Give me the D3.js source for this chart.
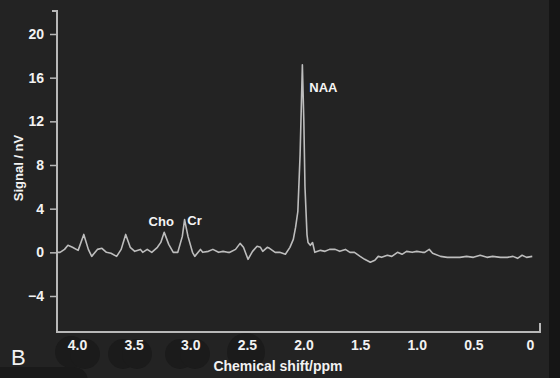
<html lang="en">
<head>
<meta charset="utf-8">
<title>MR spectrum</title>
<script src="https://cdn.jsdelivr.net/npm/d3@7"></script>
<style>
  body { margin: 0; background: #232323; }
  text { font-family: "Liberation Sans", Arial, sans-serif; }
</style>
</head>
<body></body>
<script type="text/javascript">

/*********************************************************************/
// Data

var shiftPpm = [4.18, 4.15, 4.11, 4.08, 4.04, 3.99, 3.94, 3.90, 3.87, 3.82, 3.78, 3.74, 3.70, 3.65, 3.61, 3.57,
	3.53, 3.49, 3.44, 3.42, 3.38, 3.34, 3.29, 3.26, 3.23, 3.19, 3.15, 3.11, 3.07, 3.05, 3.02, 2.98,
	2.96, 2.91, 2.89, 2.84, 2.80, 2.75, 2.71, 2.67, 2.65, 2.60, 2.56, 2.53, 2.49, 2.45, 2.41, 2.38,
	2.36, 2.32, 2.30, 2.25, 2.21, 2.16, 2.12, 2.09, 2.07, 2.05, 2.03, 2.02, 2.01, 1.997, 1.987, 1.969,
	1.96, 1.94, 1.92, 1.90, 1.85, 1.81, 1.77, 1.72, 1.68, 1.63, 1.59, 1.55, 1.50, 1.46, 1.41, 1.37,
	1.34, 1.31, 1.26, 1.22, 1.17, 1.13, 1.09, 1.04, 1.00, 0.95, 0.93, 0.89, 0.86, 0.79, 0.73, 0.68,
	0.62, 0.56, 0.50, 0.44, 0.38, 0.33, 0.26, 0.20, 0.15, 0.11, 0.07, 0.03, -0.02];

var signalNv = [0, 0, 0.27, 0.64, 0.46, 0.18, 1.64, 0.27, -0.37, 0.27, 0.37, 0, -0.09, -0.37, 0.27, 1.64,
	0.46, 0.09, 0.27, 0, 0.27, 0, 0.46, 0.91, 1.83, 0.73, 0, 0, 1.46, 3.0, 1.46, 0,
	-0.37, 0.27, 0, 0.09, 0.27, 0, 0.09, 0, 0, 0.27, 0.82, 0.46, -0.64, 0.09, 0.55, 0.46,
	0.09, 0.46, 0.37, 0, 0, -0.18, 0.46, 1.19, 2.28, 3.74, 8.95, 13.06, 17.17, 12.0, 6.0, 1.6,
	0.9, 0.64, 0.9, 0, 0.18, 0.09, 0.27, 0.27, 0.09, 0.27, 0, 0, -0.37, -0.64, -0.91, -0.73,
	-0.37, -0.46, -0.27, -0.37, 0, -0.18, 0.09, 0, 0.09, 0, 0, 0.27, -0.09, -0.37, -0.46, -0.46,
	-0.46, -0.37, -0.46, -0.27, -0.46, -0.37, -0.46, -0.46, -0.37, -0.55, -0.27, -0.46, -0.37];

var xTicks = [4.0, 3.5, 3.0, 2.5, 2.0, 1.5, 1.0, 0.5, 0];
var xTickLabels = ["4.0", "3.5", "3.0", "2.5", "2.0", "1.5", "1.0", "0.5", "0"];
var yTicks = [-4, 0, 4, 8, 12, 16, 20];

var peakNames = ["Cho", "Cr", "NAA"];
var peakPpm = [3.23, 3.05, 2.01];
var peakSignal = [1.83, 3.0, 17.17];

/*********************************************************************/
// Canvas

width = 560;
height = 378;

svg = d3.select("body")
	.append("svg")
	.attr("id", "canvas")
	.attr("width", width)
	.attr("height", height);

svg.append("rect")
	.attr("width", width)
	.attr("height", height)
	.attr("fill", "#232323");

// dark strip on the right edge of the scan
svg.append("rect")
	.attr("x", 549)
	.attr("width", width - 549)
	.attr("height", height)
	.attr("fill", "#151515");

/*********************************************************************/
// Scales

var x = d3.scaleLinear().domain([4, 0]).range([77, 530]);
var y = d3.scaleLinear().domain([-4, 20]).range([296, 34]);

/*********************************************************************/
// Scan smudges behind the x labels

var blobs = [[71, 352, 16], [85, 354, 15], [123, 354, 15], [137, 354, 15],
	[180, 354, 15], [195, 354, 15], [246, 352, 19]];

svg.selectAll(".blob")
	.data(blobs)
	.enter()
	.append("circle")
	.attr("class", "blob")
	.attr("cx", function(d) {return d[0];})
	.attr("cy", function(d) {return d[1];})
	.attr("r", function(d) {return d[2];})
	.attr("fill", "#1b1b1b");

svg.append("rect")
	.attr("x", -20)
	.attr("y", 367)
	.attr("width", 108)
	.attr("height", 30)
	.attr("rx", 14)
	.attr("fill", "#1a1a1a");

/*********************************************************************/
// Axes

var axisColor = "#b8b8b8";

svg.append("path")
	.attr("d", "M52,11 H57 V332 H540 V323")
	.attr("fill", "none")
	.attr("stroke", axisColor)
	.attr("stroke-width", 2);

var yAxis = svg.append("g")
	.attr("transform", "translate(57,0)")
	.call(d3.axisLeft(y).tickValues(yTicks).tickSize(7).tickPadding(6)
		.tickFormat(function(d) {return d < 0 ? "\u2212" + Math.abs(d) : d;}));

yAxis.select(".domain").remove();
yAxis.selectAll("line").attr("stroke", axisColor).attr("stroke-width", 1.5);
yAxis.selectAll("text")
	.attr("fill", "#f2f2f2")
	.style("font-size", "14px")
	.style("font-weight", "bold")
	.style("font-family", "Liberation Sans, Arial, sans-serif");

var xAxis = svg.append("g")
	.attr("transform", "translate(0,332)")
	.call(d3.axisBottom(x).tickValues(xTicks).tickSize(0).tickPadding(8)
		.tickFormat(function(d, i) {return xTickLabels[i];}));

xAxis.select(".domain").remove();
xAxis.selectAll("text")
	.attr("fill", "#f2f2f2")
	.style("font-size", "14px")
	.style("font-weight", "bold")
	.style("font-family", "Liberation Sans, Arial, sans-serif");

/*********************************************************************/
// Titles

svg.append("text")
	.attr("transform", "translate(23,168) rotate(-90)")
	.attr("text-anchor", "middle")
	.attr("fill", "#f2f2f2")
	.style("font-size", "13px")
	.style("font-weight", "bold")
	.text("Signal / nV");

svg.append("text")
	.attr("x", 278)
	.attr("y", 371)
	.attr("text-anchor", "middle")
	.attr("fill", "#f2f2f2")
	.style("font-size", "14px")
	.style("font-weight", "bold")
	.text("Chemical shift/ppm");

svg.append("text")
	.attr("x", 11)
	.attr("y", 365)
	.attr("fill", "#f2f2f2")
	.style("font-size", "22px")
	.text("B");

/*********************************************************************/
// Spectrum

var spectrum = d3.line()
	.x(function(d, i) {return x(shiftPpm[i]);})
	.y(function(d) {return y(d);});

svg.append("path")
	.attr("d", spectrum(signalNv))
	.attr("fill", "none")
	.attr("stroke", "#bdbdbd")
	.attr("stroke-width", 1.6)
	.attr("stroke-linejoin", "round");

/*********************************************************************/
// Peak labels

var labelDx = [-3, 10, 21];
var labelDy = [-6, 5, 27];

svg.selectAll(".peakLabel")
	.data(peakNames)
	.enter()
	.append("text")
	.attr("class", "peakLabel")
	.attr("x", function(d, i) {return x(peakPpm[i]) + labelDx[i];})
	.attr("y", function(d, i) {return y(peakSignal[i]) + labelDy[i];})
	.attr("text-anchor", "middle")
	.attr("fill", "#f5f5f5")
	.style("font-size", "13px")
	.style("font-weight", "bold")
	.text(function(d) {return d;});

</script>
</html>
